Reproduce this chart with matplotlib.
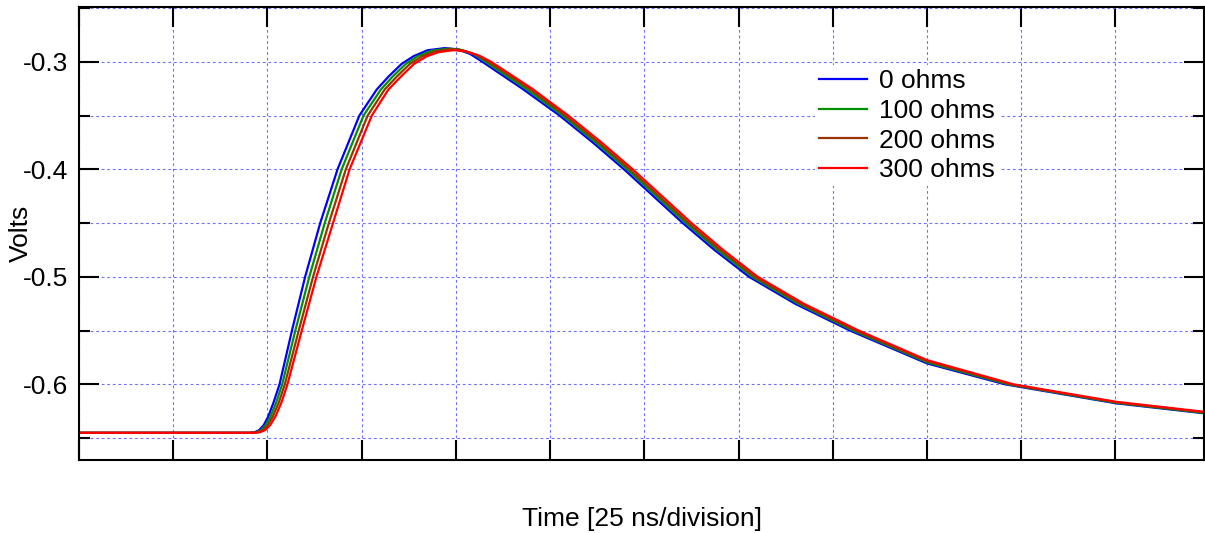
import matplotlib.pyplot as plt
from matplotlib.ticker import MultipleLocator, NullFormatter

plt.rcParams['font.family'] = ['Liberation Sans', 'DejaVu Sans']

# time in ns (25 ns per division), voltage in volts
t_0 = [0, 45.0, 46.6, 47.8, 49.0, 50.2, 51.6, 53.2, 56.5, 60.0, 64.0, 68.6, 74.4, 79.0,
       82.2, 85.6, 88.8, 92.5, 97.1, 100.5, 103.8, 107.0, 117.6, 127.5, 136.3, 144.6,
       152.4, 160.2, 168.6, 177.8, 190.0, 204.6, 225.0, 245.8, 275.2, 298.6]
v_0 = [-0.645, -0.645, -0.6445, -0.6425, -0.638, -0.630, -0.617, -0.600, -0.550, -0.500,
       -0.450, -0.400, -0.350, -0.3258, -0.3135, -0.302, -0.2948, -0.2893, -0.2873,
       -0.2885, -0.2928, -0.300, -0.325, -0.350, -0.375, -0.400, -0.425, -0.450, -0.475,
       -0.500, -0.525, -0.550, -0.5805, -0.600, -0.6176, -0.6269]

t_100 = [0, 45.4, 47.0, 48.3, 49.5, 50.8, 52.3, 53.9, 57.4, 61.1, 65.2, 69.7, 75.5, 80.1,
         83.3, 86.7, 89.9, 93.5, 97.8, 101.0, 104.8, 107.8, 118.5, 128.3, 137.1, 145.4,
         153.2, 161.0, 169.4, 178.6, 190.8, 205.4, 225.0, 246.6, 275.2, 298.6]
v_100 = [-0.645, -0.645, -0.6445, -0.6425, -0.638, -0.630, -0.617, -0.600, -0.550, -0.500,
         -0.450, -0.400, -0.350, -0.3258, -0.3135, -0.302, -0.2948, -0.2898, -0.2878,
         -0.2886, -0.2930, -0.300, -0.325, -0.350, -0.375, -0.400, -0.425, -0.450, -0.475,
         -0.500, -0.525, -0.550, -0.5795, -0.600, -0.6172, -0.6265]

t_200 = [0, 45.9, 47.5, 48.8, 50.1, 51.4, 53.0, 54.6, 58.3, 62.1, 66.3, 70.8, 76.6, 81.1,
         84.4, 87.8, 91.0, 94.5, 98.5, 101.8, 105.5, 108.6, 119.4, 129.0, 137.8, 146.1,
         153.9, 161.7, 170.1, 179.3, 191.5, 206.1, 225.0, 247.3, 275.2, 298.6]
v_200 = [-0.645, -0.645, -0.6445, -0.6425, -0.638, -0.630, -0.617, -0.600, -0.550, -0.500,
         -0.450, -0.400, -0.350, -0.3258, -0.3135, -0.302, -0.2950, -0.2903, -0.2884,
         -0.2893, -0.2938, -0.300, -0.325, -0.350, -0.375, -0.400, -0.425, -0.450, -0.475,
         -0.500, -0.525, -0.550, -0.5785, -0.600, -0.6167, -0.6260]

t_300 = [0, 46.4, 48.0, 49.4, 50.7, 52.1, 53.7, 55.3, 59.1, 63.0, 67.4, 71.8, 77.7, 82.1,
         85.5, 88.9, 92.2, 95.5, 99.4, 102.8, 106.3, 109.3, 120.2, 129.8, 138.6, 146.9,
         154.7, 162.5, 170.9, 180.1, 192.3, 206.9, 225.0, 248.0, 275.2, 298.6]
v_300 = [-0.645, -0.645, -0.6445, -0.6425, -0.638, -0.630, -0.617, -0.600, -0.550, -0.500,
         -0.450, -0.400, -0.350, -0.3258, -0.3135, -0.302, -0.2950, -0.2910, -0.2892,
         -0.2905, -0.2945, -0.300, -0.325, -0.350, -0.375, -0.400, -0.425, -0.450, -0.475,
         -0.500, -0.525, -0.550, -0.5774, -0.600, -0.6162, -0.6255]

labels = ['0 ohms', '100 ohms', '200 ohms', '300 ohms']
colors = ['#0000ff', '#009000', '#993300', '#ff0000']

fig = plt.figure(figsize=(12.05, 5.33), dpi=100)
ax = fig.add_axes([79 / 1205, 73 / 533, 1125 / 1205, 453 / 533])

for t, v, lab, c in zip([t_0, t_100, t_200, t_300], [v_0, v_100, v_200, v_300], labels, colors):
    ax.plot(t, v, color=c, lw=1.6, label=lab)

ax.set_xlim(0, 298.5)
ax.set_ylim(-0.6703, -0.2491)

ax.xaxis.set_major_locator(MultipleLocator(25))
ax.xaxis.set_major_formatter(NullFormatter())
ax.yaxis.set_minor_locator(MultipleLocator(0.05))
ax.set_yticks([-0.3, -0.4, -0.5, -0.6])
ax.set_yticklabels(['-0.3', '-0.4', '-0.5', '-0.6'])

ax.tick_params(which='major', direction='in', length=14.4, width=1.5,
               top=True, right=True, labelsize=19, pad=7.5)
ax.tick_params(which='minor', direction='in', length=8, width=1.5,
               top=True, right=True)
for s in ax.spines.values():
    s.set_linewidth(1.5)

ax.set_axisbelow(True)
ax.grid(which='both', color='#7070ff', lw=0.8, linestyle=(0, (2.5, 2.5)))

ax.set_xlabel('Time [25 ns/division]', fontsize=19)
ax.xaxis.set_label_coords(0.5, -0.104)
ax.set_ylabel('Volts', fontsize=19)
ax.yaxis.set_label_coords(-0.041, 0.5)

leg = ax.legend(loc='upper left', bbox_to_anchor=(0.6542, 0.872), fontsize=19,
                frameon=True, framealpha=1, facecolor='white', edgecolor='none',
                fancybox=False, borderpad=0.15, borderaxespad=0, labelspacing=0.22,
                handlelength=1.82, handletextpad=0.45)
leg.get_frame().set_linewidth(0)

fig.savefig('out.png', dpi=100)
